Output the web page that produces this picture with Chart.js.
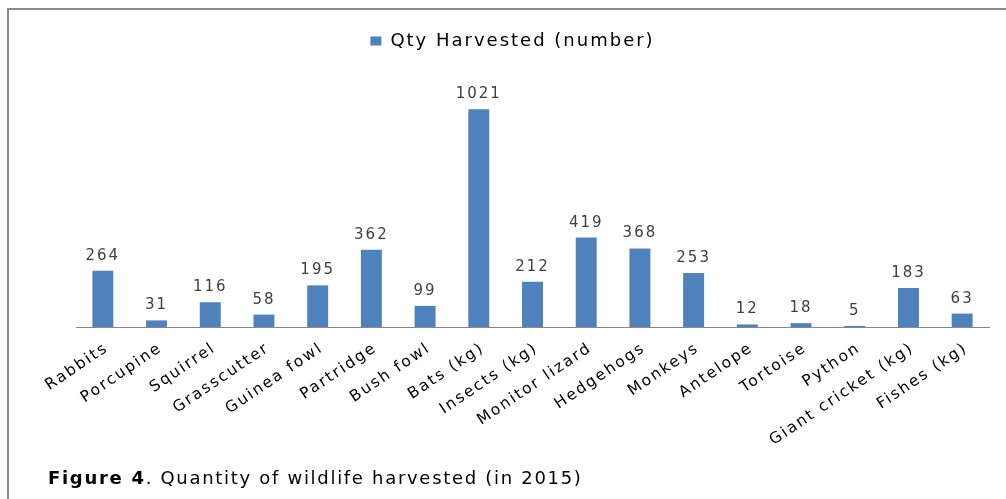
<!DOCTYPE html>
<html>
<head>
<meta charset="utf-8">
<script src="https://cdn.jsdelivr.net/npm/chart.js@4/dist/chart.umd.min.js"></script>
<style>
  html, body { margin: 0; padding: 0; background: #fff; overflow: hidden; }
  #frame { position: absolute; left: 7px; top: 8px; width: 1100px; height: 600px;
           border-left: 2px solid #8a8a8a; border-top: 2px solid #8a8a8a; }
  #wrap { position: absolute; left: 0; top: 0; width: 1006px; height: 499px; }
  #caption { position: absolute; left: 48px; top: 467px; font-family: 'DejaVu Sans', sans-serif;
             font-size: 18px; letter-spacing: 1.7px; color: #000; white-space: nowrap; }
</style>
</head>
<body>
<div id="frame"></div>
<div id="wrap"><canvas id="c"></canvas></div>
<div id="caption"><b>Figure 4</b>. Quantity of wildlife harvested (in 2015)</div>
<script>
const categories = ["Rabbits", "Porcupine", "Squirrel", "Grasscutter", "Guinea fowl", "Partridge",
  "Bush fowl", "Bats (kg)", "Insects (kg)", "Monitor lizard", "Hedgehogs", "Monkeys",
  "Antelope", "Tortoise", "Python", "Giant cricket (kg)", "Fishes (kg)"];
const qtyHarvested = [264, 31, 116, 58, 195, 362, 99, 1021, 212, 419, 368, 253, 12, 18, 5, 183, 63];
const seriesName = "Qty Harvested (number)";

Chart.defaults.font.family = "'DejaVu Sans', sans-serif";

const spacing = {
  id: 'spacing',
  beforeUpdate(chart) { chart.ctx.letterSpacing = '2px'; },
  beforeLayout(chart) { chart.ctx.letterSpacing = '2px'; },
  beforeDraw(chart) { chart.ctx.letterSpacing = '2px'; }
};

const legendPlace = {
  id: 'legendPlace',
  beforeInit(chart) {
    const orig = chart.legend.fit;
    chart.legend.fit = function () { orig.call(this); this.height = 51; };
  },
  afterLayout(chart) {
    chart.legend.left -= 20;
    chart.legend.right -= 20;
  }
};

const valueLabels = {
  id: 'valueLabels',
  afterDatasetsDraw(chart) {
    const ctx = chart.ctx;
    const meta = chart.getDatasetMeta(0);
    ctx.save();
    ctx.letterSpacing = '2px';
    ctx.font = "15px 'DejaVu Sans', sans-serif";
    ctx.fillStyle = '#404040';
    ctx.textAlign = 'center';
    ctx.textBaseline = 'alphabetic';
    meta.data.forEach((bar, i) => {
      ctx.fillText(String(qtyHarvested[i]), bar.x, bar.y - 11);
    });
    ctx.restore();
  }
};

new Chart(document.getElementById('c'), {
  type: 'bar',
  data: {
    labels: categories,
    datasets: [{
      label: seriesName,
      data: qtyHarvested,
      backgroundColor: '#4F81BD',
      borderWidth: 0,
      categoryPercentage: 1,
      barPercentage: 0.39
    }]
  },
  options: {
    responsive: true,
    maintainAspectRatio: false,
    animation: false,
    layout: { padding: { left: 76, right: 17, top: 20, bottom: 0 } },
    plugins: {
      legend: {
        position: 'top',
        labels: { boxWidth: 11, boxHeight: 9, padding: 12, color: '#000', font: { size: 18 } }
      },
      tooltip: { enabled: false }
    },
    scales: {
      x: {
        grid: { display: false, drawTicks: false },
        border: { display: true, color: '#868686', width: 1 },
        ticks: { color: '#000', font: { size: 15.5 }, minRotation: 34, maxRotation: 34,
                 padding: 12, labelOffset: 4, autoSkip: false },
        afterFit(scale) { scale.height = 172; }
      },
      y: { display: false, min: 0, max: 1200 }
    }
  },
  plugins: [spacing, legendPlace, valueLabels]
});
</script>
</body>
</html>
